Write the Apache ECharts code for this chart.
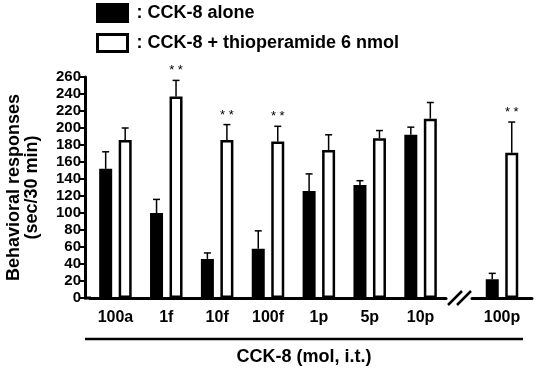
<!DOCTYPE html>
<html>
<head>
<meta charset="utf-8">
<script src="https://cdn.jsdelivr.net/npm/echarts@6/dist/echarts.min.js"></script>
<style>
  html, body { margin: 0; padding: 0; background: #fff; }
  #chart { width: 534px; height: 368px; }
</style>
</head>
<body>
<div id="chart"></div>
<script>
// doses, last one sits after the axis break
var categories = ['100a', '1f', '10f', '100f', '1p', '5p', '10p', '100p']
var alone = [152, 100, 46, 58, 126, 133, 192, 22]
var aloneErr = [20, 16, 7, 21, 20, 5, 9, 7]
var withThio = [186, 237, 186, 184, 174, 188, 211, 171]
var withThioErr = [14, 19, 18, 18, 18, 9, 19, 36]
var withThioSig = ['', '**', '**', '**', '', '', '', '**']
var yTicks = [0, 260, 20]

var nameAlone = 'CCK-8 alone'
var nameThio = 'CCK-8 + thioperamide 6 nmol'
var font = 'Liberation Sans, Arial, sans-serif'

var barW = 13
var barOffset = (barW + barW * 0.5) / 2
var splitAt = 7

var myChart = echarts.init(document.getElementById('chart'))

function errSeries(gridIdx, vals, errs, sign, sig) {
  var start = gridIdx === 0 ? 0 : splitAt
  var end = gridIdx === 0 ? splitAt : vals.length
  var data = []
  for (var i = start; i < end; i++) {
    data.push([i - start, vals[i], errs[i], i])
  }
  return {
    type: 'custom',
    xAxisIndex: gridIdx,
    yAxisIndex: gridIdx,
    z: 5,
    silent: true,
    encode: { x: 0, y: 1 },
    data: data,
    renderItem: function (params, api) {
      var base = api.coord([api.value(0), api.value(1)])
      var top = api.coord([api.value(0), api.value(1) + api.value(2)])
      var x = base[0] + sign * barOffset
      var children = [
        { type: 'line', shape: { x1: x, y1: base[1], x2: x, y2: top[1] }, style: { stroke: '#000', lineWidth: 1.5 } },
        { type: 'line', shape: { x1: x - 3.5, y1: top[1], x2: x + 3.5, y2: top[1] }, style: { stroke: '#000', lineWidth: 1.5 } }
      ]
      var s = sig ? sig[api.value(3)] : ''
      if (s) {
        children.push({
          type: 'text',
          style: {
            x: x, y: top[1] - 3, text: '* *', align: 'center', verticalAlign: 'bottom',
            fontSize: 13, fontFamily: font, fill: '#000'
          }
        })
      }
      return { type: 'group', children: children }
    }
  }
}

function barSeries(gridIdx, name, vals, color) {
  var part = gridIdx === 0 ? vals.slice(0, splitAt) : vals.slice(splitAt)
  return {
    name: name,
    type: 'bar',
    xAxisIndex: gridIdx,
    yAxisIndex: gridIdx,
    barWidth: barW,
    barGap: '50%',
    itemStyle: { color: color, borderColor: '#000', borderWidth: 2.5 },
    data: part
  }
}

var yAxisBase = {
  type: 'value',
  min: yTicks[0],
  max: yTicks[1],
  interval: yTicks[2],
  splitLine: { show: false }
}

var option = {
  animation: false,
  backgroundColor: '#fff',
  legend: {
    orient: 'vertical',
    left: 96,
    top: 3,
    padding: 0,
    itemWidth: 30,
    itemHeight: 17,
    itemGap: 10,
    icon: 'rect',
    formatter: ': {name}',
    textStyle: { fontFamily: font, fontWeight: 'bold', fontSize: 18, color: '#000', padding: [0, 0, 0, 4] },
    data: [
      { name: nameAlone, itemStyle: { color: '#000', borderColor: '#000', borderWidth: 3 } },
      { name: nameThio, itemStyle: { color: '#fff', borderColor: '#000', borderWidth: 3 } }
    ]
  },
  grid: [
    { left: 90, right: 88, top: 77, bottom: 70, outerBoundsMode: 'none', containLabel: false },
    { left: 472, right: 2, top: 77, bottom: 70, outerBoundsMode: 'none', containLabel: false }
  ],
  xAxis: [
    {
      type: 'category',
      gridIndex: 0,
      data: categories.slice(0, splitAt),
      axisLine: { lineStyle: { color: '#000', width: 3 } },
      axisTick: { show: false },
      axisLabel: { margin: 12, fontFamily: font, fontWeight: 'bold', fontSize: 16, color: '#000' }
    },
    {
      type: 'category',
      gridIndex: 1,
      data: categories.slice(splitAt),
      axisLine: { lineStyle: { color: '#000', width: 3 } },
      axisTick: { show: false },
      axisLabel: { margin: 12, fontFamily: font, fontWeight: 'bold', fontSize: 16, color: '#000' }
    }
  ],
  yAxis: [
    Object.assign({}, yAxisBase, {
      gridIndex: 0,
      offset: 5,
      name: 'Behavioral responses\n(sec/30 min)',
      nameLocation: 'middle',
      nameGap: 44,
      nameTextStyle: { fontFamily: font, fontWeight: 'bold', fontSize: 18, lineHeight: 18, color: '#000' },
      axisLine: { show: true, lineStyle: { color: '#000', width: 3 } },
      axisTick: { show: true, length: 5, lineStyle: { color: '#000', width: 2 } },
      axisLabel: { margin: 4, fontFamily: font, fontWeight: 'bold', fontSize: 15, color: '#000' }
    }),
    Object.assign({}, yAxisBase, { gridIndex: 1, show: false })
  ],
  series: [
    barSeries(0, nameAlone, alone, '#000'),
    barSeries(0, nameThio, withThio, '#fff'),
    barSeries(1, nameAlone, alone, '#000'),
    barSeries(1, nameThio, withThio, '#fff'),
    errSeries(0, alone, aloneErr, -1, null),
    errSeries(0, withThio, withThioErr, 1, withThioSig),
    errSeries(1, alone, aloneErr, -1, null),
    errSeries(1, withThio, withThioErr, 1, withThioSig)
  ],
  graphic: [
    // join the x axis to the shifted y axis
    { type: 'line', shape: { x1: 84, y1: 298, x2: 91, y2: 298 }, style: { stroke: '#000', lineWidth: 3 } },
    // axis break marks
    { type: 'line', shape: { x1: 448, y1: 305, x2: 462, y2: 291 }, style: { stroke: '#000', lineWidth: 2.5 } },
    { type: 'line', shape: { x1: 457, y1: 305, x2: 471, y2: 291 }, style: { stroke: '#000', lineWidth: 2.5 } },
    // bracket line + x title
    { type: 'line', shape: { x1: 85, y1: 339, x2: 523, y2: 339 }, style: { stroke: '#000', lineWidth: 2.5 } },
    {
      type: 'text',
      style: {
        x: 304, y: 357, text: 'CCK-8 (mol, i.t.)', align: 'center', verticalAlign: 'middle',
        fontFamily: font, fontWeight: 'bold', fontSize: 18, fill: '#000'
      }
    }
  ]
}

myChart.setOption(option)
</script>
</body>
</html>
